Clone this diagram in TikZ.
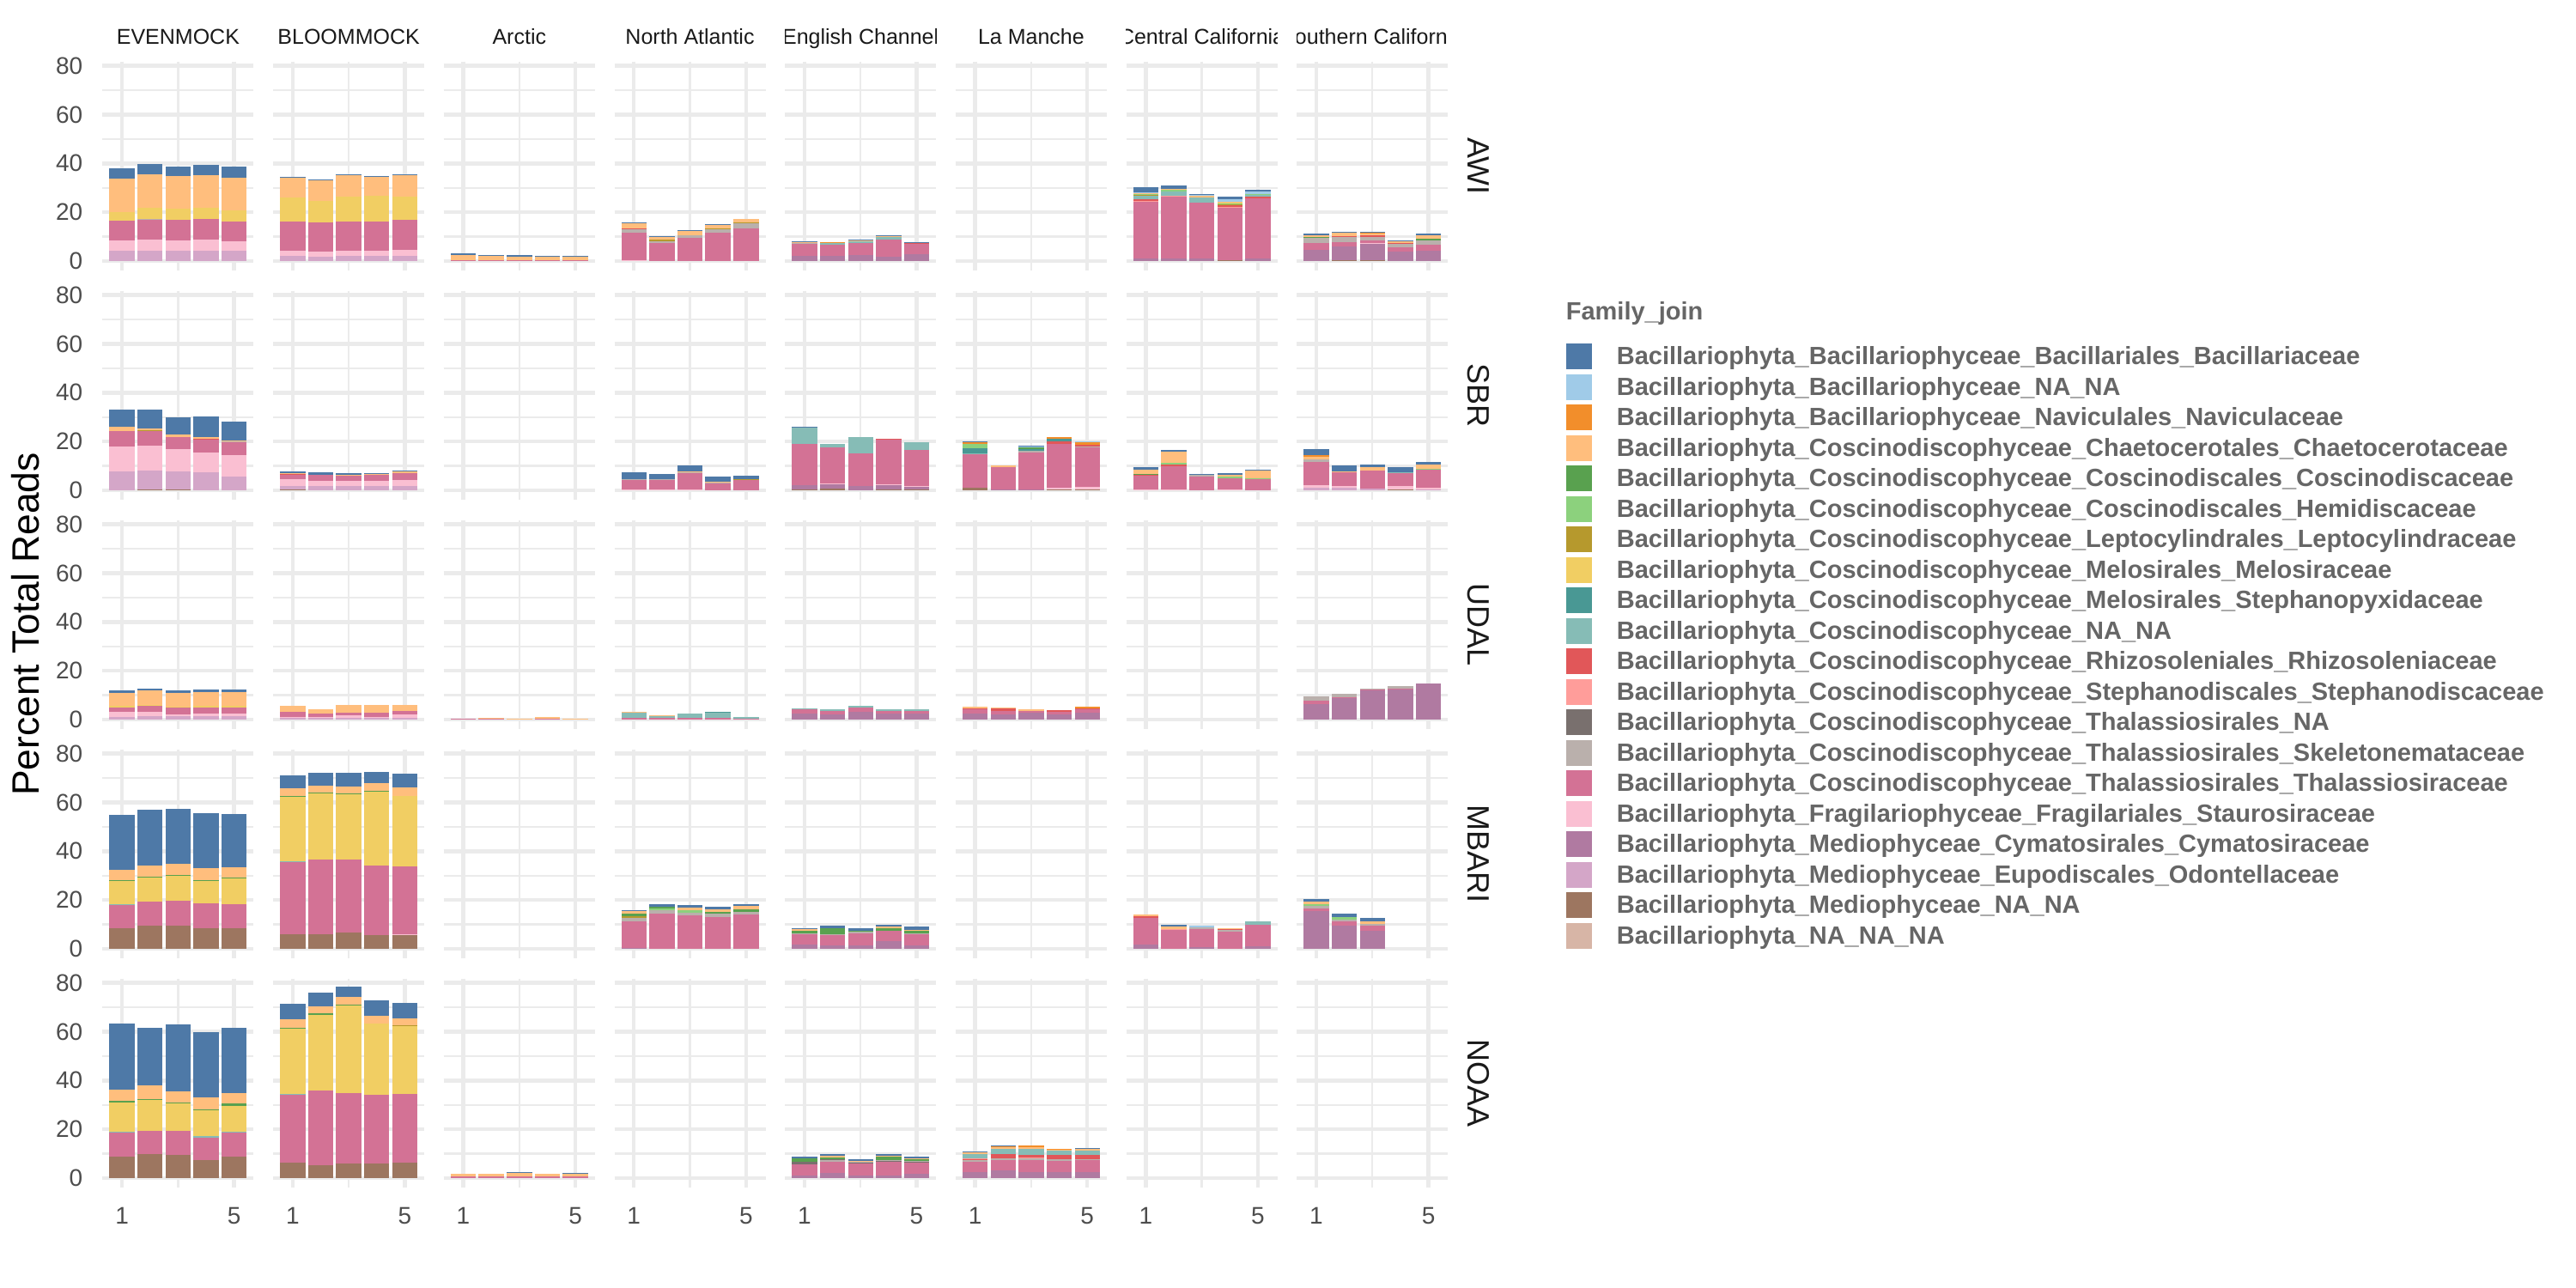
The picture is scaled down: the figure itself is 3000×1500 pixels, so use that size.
\documentclass[tikz,border=0pt]{standalone}
\usepackage{fontspec}
\setmainfont{Liberation Sans}
\definecolor{Ba}{HTML}{4E79A7}
\definecolor{BN}{HTML}{A0CBE8}
\definecolor{Na}{HTML}{F28E2B}
\definecolor{Ch}{HTML}{FFBE7D}
\definecolor{Co}{HTML}{59A14F}
\definecolor{He}{HTML}{8CD17D}
\definecolor{Le}{HTML}{B6992D}
\definecolor{Me}{HTML}{F1CE63}
\definecolor{Sp}{HTML}{499894}
\definecolor{CN}{HTML}{86BCB6}
\definecolor{Rh}{HTML}{E15759}
\definecolor{Sd}{HTML}{FF9D9A}
\definecolor{TN}{HTML}{79706E}
\definecolor{Sk}{HTML}{BAB0AC}
\definecolor{Th}{HTML}{D37295}
\definecolor{Sr}{HTML}{FABFD2}
\definecolor{Cy}{HTML}{B07AA1}
\definecolor{Od}{HTML}{D4A6C8}
\definecolor{MN}{HTML}{9D7660}
\definecolor{NN}{HTML}{D7B5A6}
\definecolor{gridc}{HTML}{EBEBEB}
\definecolor{tickc}{HTML}{4D4D4D}
\definecolor{stripc}{HTML}{1A1A1A}
\definecolor{legc}{HTML}{666666}
\tikzset{
 majorline/.style={draw=gridc, line width=1.12pt},
 minorline/.style={draw=gridc, line width=0.56pt},
 ticklab/.style={text=tickc, font=\fontsize{7pt}{8pt}\selectfont, inner sep=0pt},
 striplab/.style={text=stripc, font=\fontsize{6.25pt}{7pt}\selectfont, inner sep=0pt, anchor=base},
 rstrip/.style={text=stripc, font=\fontsize{9pt}{10pt}\selectfont, inner sep=0pt, rotate=-90},
 legtext/.style={text=legc, font=\fontsize{7.25pt}{8pt}\selectfont\bfseries, inner sep=0pt, anchor=base west},
 keybox/.style={minimum width=7.5pt, minimum height=7.5pt, inner sep=0pt, draw=none}
}
% one stacked bar: col, row, bar index, list colour/cumulative top
\newcommand\pb[4]{%
  \pgfmathsetmacro\bx{119.4+#1*198.7+88+(#3-3)*32.65}%
  \pgfmathsetmacro\bz{304+#2*267}%
  \foreach \cc/\vv [remember=\vv as \lv (initially 0)] in {#4}{%
    \fill[fill=\cc] (\bx-14.7,\bz-\lv*2.8425) rectangle (\bx+14.7,\bz-\vv*2.8425);}%
}
\newcommand\pan[7]{\pb{#1}{#2}{1}{#3}\pb{#1}{#2}{2}{#4}\pb{#1}{#2}{3}{#5}\pb{#1}{#2}{4}{#6}\pb{#1}{#2}{5}{#7}}
\begin{document}
\begin{tikzpicture}[x=0.25pt,y=-0.25pt]
\useasboundingbox (0,0) rectangle (3000,1500);
\fill[white] (0,0) rectangle (3000,1500);
% grids
\foreach \c in {0,...,7}{
 \foreach \r in {0,...,4}{
  \pgfmathsetmacro\L{119.4+\c*198.7}
  \pgfmathsetmacro\R{\L+176}
  \pgfmathsetmacro\Z{304+\r*267}
  \pgfmathsetmacro\T{\Z-232.3}
  \pgfmathsetmacro\B{\Z+11}
  \foreach \v in {10,30,50,70} \draw[minorline] (\L,\Z-\v*2.8425) -- (\R,\Z-\v*2.8425);
  \draw[minorline] (\L+88,\T) -- (\L+88,\B);
  \foreach \v in {0,20,40,60,80} \draw[majorline] (\L,\Z-\v*2.8425) -- (\R,\Z-\v*2.8425);
  \draw[majorline] (\L+22.7,\T) -- (\L+22.7,\B);
  \draw[majorline] (\L+153.3,\T) -- (\L+153.3,\B);
 }}
% ---------- AWI (row 0)
\pan{0}{0}{Od/4.2,Sr/8.35,Th/16.4,Me/20.1,Ch/33.7,Ba/38}{Od/4.2,Sr/8.75,Th/16.8,Sk/17.4,Me/21.8,Ch/35.4,Ba/39.7}{Od/4.2,Sr/8.35,Th/16.8,Me/21.3,Ch/34.7,Ba/38.65}{Od/4.2,Sr/8.75,Th/17.2,Me/21.8,Ch/35.15,Ba/39.3}{Od/4.2,Sr/8.1,Th/16.2,Me/20.7,Ch/34.1,Ba/38.65}
\pan{1}{0}{Od/2.0,Sr/4.2,Th/16.2,Me/25.9,Ch/34.1,Ba/34.5}{Od/1.75,Sr/3.8,Th/15.8,Me/24.8,Ch/33,Ba/33.4}{Od/2.0,Sr/4.2,Th/16.2,Me/26.5,Ch/35.15,Ba/35.4}{Od/2.0,Sr/4.2,Th/16.2,Me/26.7,Ch/34.7,Ba/35.0}{Od/2.0,Sr/4.6,Th/16.8,Me/26.5,Ch/35.15,Ba/35.4}
\pan{2}{0}{Th/0.5,Ch/2.4,Ba/3.0}{Th/0.5,Ch/2.3,Ba/2.6}{Th/0.5,Ch/1.75,Ba/2.4}{Th/0.3,Ch/1.9,Ba/2.1}{Th/0.3,Ch/1.9,Ba/2.1}
\pan{3}{0}{Sr/0.3,Th/11.6,Sk/12.9,Rh/13.3,Ch/15.35,Ba/15.75}{Th/7.3,Sk/8.2,Le/8.75,Ch/9.8,Ba/10.2}{Th/9.4,Sk/10.6,Ch/12.3,Ba/12.7}{Th/11.6,Sk/12.9,Le/13.3,Ch/14.7,Ba/15.1}{Th/13.3,Sk/15.35,Le/15.75,Ch/17.2}
\pan{4}{0}{Cy/2.0,Th/7.1,Sk/7.5,Ch/7.9,Ba/8.2}{Cy/2.0,Th/6.6,CN/7.3,Na/7.7}{Cy/2.4,Th/7.3,CN/8.2,Ch/8.6,Ba/8.9}{Cy/1.9,Th/8.75,CN/10.0,Ch/10.3,Ba/10.6}{Cy/2.7,Th/7.1,Rh/7.5,Ba/7.9}
\pan{6}{0}{Cy/1.05,Th/24.3,Sd/24.6,Rh/25.4,CN/26.8,Le/27.05,He/27.4,Ch/27.9,BN/28.25,Ba/30.25}{Cy/1.05,Th/26.4,Sd/26.85,CN/28.6,He/29.1,Ch/29.4,Ba/30.95}{Cy/1.05,Th/23.9,CN/25.9,Ch/26.85,BN/27.1,Ba/27.4}{MN/0.35,Th/21.8,Sd/22.15,Rh/22.75,Le/23.1,He/23.45,Me/23.9,Ch/24.3,BN/25.2,Ba/26.4}{Cy/1.05,Th/25.7,Rh/26.5,CN/27.1,He/27.4,BN/28.5,Ba/29.2}
\pan{7}{0}{Cy/4.6,Th/7.4,Sk/9.5,Co/9.95,Ch/10.7,Ba/11.25}{MN/0.3,Cy/5.9,Th/7.9,Sk/10.0,Rh/10.3,Ch/11.6,Ba/12.1}{MN/0.3,Cy/7.0,Sr/7.3,Th/8.6,Sk/10.0,Rh/10.5,Ch/11.2,Na/11.45,Ba/11.85}{Cy/3.8,Th/5.65,Sk/7.1,Rh/7.4,Ch/8.35,Ba/8.6}{Cy/4.2,Th/6.6,Sk/8.6,Co/9.0,Ch/10.5,Ba/11.2}
% ---------- SBR (row 1)
\pan{0}{1}{Od/7.66,Sr/17.9,Th/24.2,Ch/25.9,Ba/32.9}{MN/0.3,Od/8.06,Sr/18.3,Th/24.2,Le/24.5,Ch/25.3,Ba/32.9}{MN/0.3,Od/7.66,Sr/16.8,Th/21.9,Ch/22.85,Ba/29.8}{Od/7.4,Sr/15.5,Th/20.8,Rh/21.2,Ch/21.8,Ba/30.2}{Od/5.65,Sr/14.4,Th/19.8,Sk/20.2,Ch/20.4,Ba/28.1}
\pan{1}{1}{MN/0.3,Od/1.75,Sr/4.6,Th/6.6,Rh/6.8,Ch/7.1,Ba/7.66}{Od/1.75,Sr/3.9,Th/6.3,Ba/7.4}{Od/1.75,Sr/3.9,Th/5.9,Ch/6.3,Ba/7.0}{Od/1.75,Sr/3.9,Th/6.3,Ch/6.6,Ba/7.0}{Od/1.75,Sr/4.2,Th/7.0,Ch/7.66,Ba/8.06}
\pan{3}{1}{Sr/0.4,Th/4.2,Sk/4.6,Ba/7.4}{Sr/0.4,Th/4.2,Sk/4.6,Ba/6.6}{Sr/0.4,Th/7.0,Sk/7.4,Ch/7.7,Ba/10.2}{Th/2.8,Sk/3.4,Ch/3.6,Ba/5.65}{Th/4.2,Le/4.6,Ba/5.9}
\pan{4}{1}{MN/0.3,Cy/2.0,Th/18.95,CN/25.8,Ba/26.1}{MN/0.7,Cy/2.55,Sr/2.95,Th/17.5,CN/18.95}{Cy/1.75,Th/15.05,CN/21.8}{MN/0.3,Cy/2.0,Sr/2.4,Th/20.8,Rh/21.2}{MN/0.3,Cy/1.3,Sr/1.75,Th/16.7,CN/19.6}
\pan{5}{1}{MN/1.1,Th/14.8,CN/15.3,Sp/17.2,He/18.95,Na/19.6,Ba/20.0}{Cy/0.4,Th/9.5,Ch/10.2}{Cy/0.4,Th/15.6,Sk/16.1,Sp/16.9,Co/17.5,BN/18.1,Ba/18.4}{MN/0.3,Sr/0.9,Th/19.1,Rh/20.0,Sp/21.0,Na/21.9}{MN/0.3,Sr/1.3,Th/17.5,Sk/18.1,Rh/18.8,Na/19.6,BN/20.0}
\pan{6}{1}{Sr/0.5,Th/6.05,Rh/6.45,Co/6.85,Ch/8.6,Ba/9.4}{Sr/0.5,Th/9.95,Rh/10.5,He/11.15,Ch/15.7,Ba/16.5}{Th/5.8,Sk/6.3,Ba/6.6}{Sr/0.5,Th/4.85,He/5.65,Ch/6.45,Ba/7.0}{Th/4.6,He/5.0,Ch/8.05,Ba/8.5}
\pan{7}{1}{Od/1.1,Sr/2.0,Th/11.55,Sk/12.6,Ch/13.7,Na/14.4,Ba/16.8}{Od/1.1,Sr/1.75,Th/7.4,Ch/7.9,Ba/10.2}{Od/0.8,Th/8.05,Ch/9.4,Ba/10.5}{MN/0.5,Sr/1.75,Th/7.0,CN/7.5,Ba/9.55}{Od/0.5,Sr/1.1,Th/8.3,He/8.9,Ch/10.5,Ba/11.55}
% ---------- UDAL (row 2)
\pan{0}{2}{Od/1.2,Sr/3.25,Th/4.9,Me/5.7,Ch/10.8,Ba/12.0}{Od/1.4,Sr/3.25,Th/5.5,Me/5.9,Ch/11.8,Ba/12.8}{Od/1.4,Sr/2.0,Th/4.9,Me/5.3,Ch/10.8,Ba/12.0}{Od/1.4,Sr/2.4,Th/5.1,Me/5.5,Ch/11.2,Ba/12.4}{Od/1.4,Sr/2.4,Th/4.9,Me/5.5,Ch/11.2,Ba/12.4}
\pan{1}{2}{Od/0.6,Sr/1.2,Th/3.05,Ch/5.7}{Od/0.6,Sr/1.2,Th/2.4,Ch/4.3}{Od/0.6,Sr/1.6,Th/2.85,Ch/6.1}{Od/0.6,Sr/1.2,Th/2.85,Ch/6.1}{Od/0.6,Sr/2.0,Th/3.45,Ch/6.1}
\pan{2}{2}{Th/0.3}{Th/0.3,Ch/0.6}{Th/0.3,Ch/0.5}{Th/0.3,Ch/1.0}{Th/0.3,Ch/0.5}
\pan{3}{2}{Th/0.8,CN/2.85,Ch/3.25}{Th/0.6,CN/1.6,Ch/1.8}{Th/0.6,CN/2.4}{Th/0.8,CN/2.65,Sp/3.25}{Th/0.3,CN/1.2}
\pan{4}{2}{Cy/2.45,Th/4.1,CN/4.7}{Cy/2.25,Th/3.65,CN/4.3}{Cy/3.25,Th/5.1,CN/5.7}{Cy/2.45,Th/3.65,CN/4.3}{Cy/2.45,Th/3.65,CN/4.1}
\pan{5}{2}{Cy/2.45,Th/4.1,Rh/4.7,Ch/5.3}{Cy/2.25,Th/3.65,Rh/4.5,Ch/4.9}{Cy/2.85,Th/3.65,Ch/4.1}{Cy/2.25,Th/3.05,Rh/3.85}{Cy/2.65,Th/4.1,Rh/4.7,Na/5.3}
\pan{7}{2}{Cy/6.5,Th/7.7,Sk/9.55}{Cy/8.75,Th/9.15,Sk/10.4}{Cy/11.8,Th/12.4,Sk/12.8}{Cy/12.4,Th/12.8,Sk/13.8}{Cy/14.9}
% ---------- MBARI (row 3)
\pan{0}{3}{MN/8.6,Th/18.0,CN/18.4,Me/28.0,Co/28.3,Ch/32.4,Ba/54.9}{MN/9.4,Th/19.4,Me/29.4,Co/29.7,Ch/34.3,Ba/56.9}{MN/9.4,Th/19.6,Me/29.8,Co/30.1,Ch/34.9,Ba/57.3}{MN/8.6,Th/18.6,Me/28.0,Co/28.3,Ch/32.9,Ba/55.5}{MN/8.6,Th/18.4,Me/28.8,Co/29.1,Ch/33.3,Ba/55.3}
\pan{1}{3}{MN/6.1,Th/35.5,CN/35.8,Me/62.2,Co/62.5,Ch/65.9,Ba/71.0}{MN/6.1,Th/36.7,Me/63.7,Co/64.0,Ch/66.9,Ba/72.2}{MN/6.7,Th/36.7,Me/63.3,Co/63.6,Ch/66.5,Ba/72.0}{MN/5.5,Th/34.3,Me/64.3,Co/64.6,Ch/68.0,Ba/72.65}{MN/5.9,Sr/6.1,Th/33.9,Me/62.65,Ch/66.3,Ba/71.6}
\pan{3}{3}{Cy/0.2,Th/11.4,Sk/12.65,Le/13.5,Co/14.3,Ch/15.5,Ba/15.9}{Th/14.5,Sk/15.7,He/16.5,Co/17.3,Ba/18.4}{Th/13.7,Sk/14.9,He/15.7,Ch/16.9,Ba/18.0}{Th/12.9,Sk/14.5,Co/15.1,Ch/16.3,Ba/17.1}{Th/14.1,Sk/15.3,Co/16.3,Ch/17.5,Ba/18.4}
\pan{4}{3}{Cy/1.6,Th/6.1,Sk/6.5,Co/7.55,Ch/7.95,Ba/8.4}{Cy/1.4,Th/5.5,Sk/6.1,Co/8.4,Ba/9.4}{Cy/1.4,Th/6.3,Sk/6.9,Co/7.55,Ba/8.4}{Cy/3.05,Th/7.35,Co/8.4,Ch/9.2,Ba/9.8}{Cy/1.4,Th/6.1,Sk/6.5,Co/7.35,Ch/7.8,Ba/9.0}
\pan{6}{3}{Cy/1.8,Th/12.65,Rh/13.3,Ch/14.1}{Th/7.75,Sd/8.1,Ch/9.0,Ba/10.0}{Cy/0.8,Th/7.95,Sk/8.8,BN/9.4}{Th/6.95,Sk/7.6,Rh/8.15,Ch/8.6}{Cy/1.0,Th/10.0,CN/11.2}
\pb{7}{3}{1}{Cy/15.5,Th/16.7,Sk/17.55,He/18.4,Ch/19.2,Ba/20.4}
\pb{7}{3}{2}{Cy/9.4,Th/11.2,Sk/12.0,He/12.9,Ba/14.3}
\pb{7}{3}{3}{Cy/7.55,Th/9.4,Sk/10.2,Ch/11.2,Ba/12.65}
% ---------- NOAA (row 4)
\pan{0}{4}{MN/8.95,Th/18.7,CN/19.1,Me/31.1,Co/31.5,Ch/36.4,Ba/63.5}{MN/9.8,Th/19.5,Me/32.0,Co/32.4,Ch/37.9,Ba/61.7}{MN/9.4,Th/19.5,Me/30.7,Co/31.1,Ch/35.4,Ba/63.1}{MN/7.5,Th/16.7,CN/17.1,Me/27.9,Co/28.3,Ch/33.0,Ba/59.85}{MN/8.75,Th/18.5,CN/18.9,Me/29.7,Co/30.5,Ch/35.0,Ba/61.7}
\pan{1}{4}{MN/6.5,Th/34.2,CN/34.6,Me/61.3,Co/61.7,Ch/65.1,Ba/71.25}{MN/5.3,Th/36.0,Me/67.0,Co/67.4,Ch/70.4,Ba/76.1}{MN/5.9,Th/35.0,Me/70.6,Co/71.0,Ch/74.1,Ba/78.5}{MN/6.1,Th/34.0,Me/63.3,Ch/66.4,Ba/72.7}{MN/6.3,Th/34.6,Me/62.3,Le/62.5,Ch/65.5,Ba/71.65}
\pan{2}{4}{Th/0.8,Ch/1.8}{Th/0.8,Ch/1.8}{Th/0.8,Ch/2.0,Ba/2.45}{Th/0.8,Ch/1.8}{Th/0.8,Ch/1.6,Ba/2.0}
\pan{4}{4}{Cy/1.2,Th/5.6,TN/6.55,Co/8.2,Ba/8.9}{Cy/2.0,Th/6.7,Sk/7.4,TN/7.85,Co/8.45,Ch/9.1,Ba/9.9}{Cy/1.2,Th/5.95,TN/6.3,Sk/6.65,Ch/7.0,Ba/7.75}{Cy/1.2,Th/6.55,TN/6.9,Sk/7.4,Co/8.9,Ch/9.2,Ba/9.9}{Cy/1.9,Th/6.3,TN/6.65,Sk/7.0,Co/7.6,Ch/8.1,Ba/8.8}
\pan{5}{4}{Cy/2.6,Th/6.65,Sk/7.4,Rh/8.0,Sd/8.25,CN/9.9,Ch/10.6,Ba/10.95}{Cy/3.2,Th/7.4,Sk/8.2,Rh/9.9,CN/11.9,Ch/12.85,Na/13.1,Ba/13.45}{Cy/2.6,Th/7.4,Sk/8.1,Sd/8.45,Rh/9.5,CN/11.9,Ch/12.6,Na/13.45}{Cy/2.4,Th/7.0,Sk/7.85,Rh/9.5,CN/11.2,Ch/11.65,Na/12.0}{Cy/2.6,Th/7.4,Sk/7.85,Rh/9.5,CN/11.4,Ch/11.9,Ba/12.4}
% ---------- axis labels
\foreach \r in {0,...,4}
 \foreach \v in {0,20,40,60,80}
  \node[ticklab, anchor=east] (yt\r-\v) at (97,{304+\r*267-\v*2.8425}) {\v};
\foreach \c in {0,...,7}{
  \node[ticklab] (xa\c) at ({119.4+\c*198.7+22.7},1416) {1};
  \node[ticklab] (xb\c) at ({119.4+\c*198.7+153.3},1416) {5};
}
% ---------- strips
\foreach \c/\nm in {0/EVENMOCK,1/BLOOMMOCK,2/Arctic,3/North Atlantic,4/English Channel,5/La Manche,6/Central California,7/Southern California}{
 \begin{scope}
  \clip ({119.4+\c*198.7},8) rectangle ({119.4+\c*198.7+176},70);
  \node[striplab] (st\c) at ({119.4+\c*198.7+88},51) {\nm};
 \end{scope}
}
\foreach \r/\nm in {0/AWI,1/SBR,2/UDAL,3/MBARI,4/NOAA}
  \node[rstrip] (rs\r) at (1722,{304+\r*267-110.65}) {\nm};
\node[rotate=90, anchor=base, inner sep=0pt, font=\fontsize{11.1pt}{12pt}\selectfont] (ytitle) at (45,727) {Percent Total Reads};
% ---------- legend
\node[legtext] (legtitle) at (1823,372) {Family\_join};
\foreach \k/\cc/\lab in {
 0/Ba/Bacillariophyta\_Bacillariophyceae\_Bacillariales\_Bacillariaceae,
 1/BN/Bacillariophyta\_Bacillariophyceae\_NA\_NA,
 2/Na/Bacillariophyta\_Bacillariophyceae\_Naviculales\_Naviculaceae,
 3/Ch/Bacillariophyta\_Coscinodiscophyceae\_Chaetocerotales\_Chaetocerotaceae,
 4/Co/Bacillariophyta\_Coscinodiscophyceae\_Coscinodiscales\_Coscinodiscaceae,
 5/He/Bacillariophyta\_Coscinodiscophyceae\_Coscinodiscales\_Hemidiscaceae,
 6/Le/Bacillariophyta\_Coscinodiscophyceae\_Leptocylindrales\_Leptocylindraceae,
 7/Me/Bacillariophyta\_Coscinodiscophyceae\_Melosirales\_Melosiraceae,
 8/Sp/Bacillariophyta\_Coscinodiscophyceae\_Melosirales\_Stephanopyxidaceae,
 9/CN/Bacillariophyta\_Coscinodiscophyceae\_NA\_NA,
 10/Rh/Bacillariophyta\_Coscinodiscophyceae\_Rhizosoleniales\_Rhizosoleniaceae,
 11/Sd/Bacillariophyta\_Coscinodiscophyceae\_Stephanodiscales\_Stephanodiscaceae,
 12/TN/Bacillariophyta\_Coscinodiscophyceae\_Thalassiosirales\_NA,
 13/Sk/Bacillariophyta\_Coscinodiscophyceae\_Thalassiosirales\_Skeletonemataceae,
 14/Th/Bacillariophyta\_Coscinodiscophyceae\_Thalassiosirales\_Thalassiosiraceae,
 15/Sr/Bacillariophyta\_Fragilariophyceae\_Fragilariales\_Staurosiraceae,
 16/Cy/Bacillariophyta\_Mediophyceae\_Cymatosirales\_Cymatosiraceae,
 17/Od/Bacillariophyta\_Mediophyceae\_Eupodiscales\_Odontellaceae,
 18/MN/Bacillariophyta\_Mediophyceae\_NA\_NA,
 19/NN/Bacillariophyta\_NA\_NA\_NA}{
 \node[keybox, fill=\cc] (key\k) at (1839,{415+\k*35.5}) {};
 \node[legtext] (lab\k) at (1882,{424.5+\k*35.5}) {\lab};
}
\end{tikzpicture}
\end{document}
